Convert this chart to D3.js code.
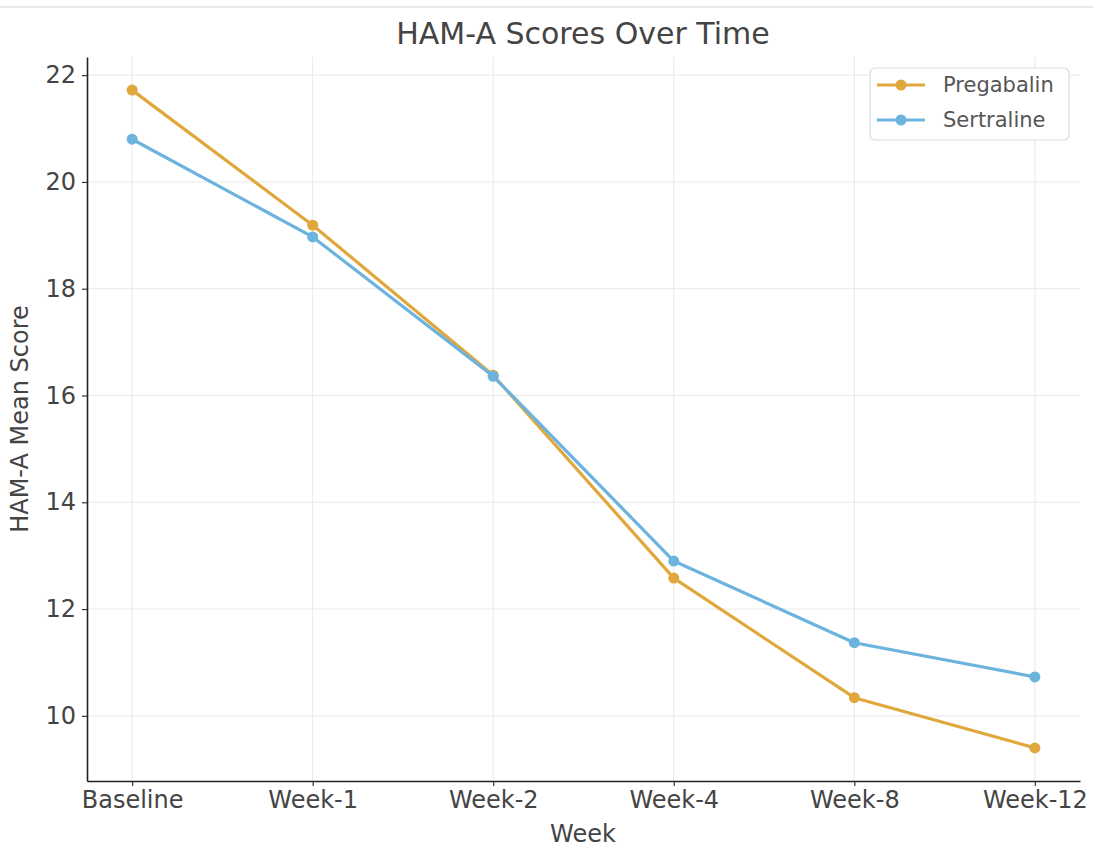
<!DOCTYPE html>
<html>
<head>
<meta charset="utf-8">
<script src="https://cdn.jsdelivr.net/npm/d3@7"></script>
<style>
  body { margin: 0; background: #fff; }
  svg text { font-family: "DejaVu Sans", sans-serif; }
</style>
</head>
<body>
<div id="chart"></div>
<script>
var weeks = ["Baseline", "Week-1", "Week-2", "Week-4", "Week-8", "Week-12"];
var pregabalin = [21.72, 19.19, 16.38, 12.58, 10.34, 9.40];
var sertraline = [20.80, 18.97, 16.36, 12.90, 11.37, 10.73];
var yTicks = [10, 12, 14, 16, 18, 20, 22];

var series = [
  {name: "Pregabalin", values: pregabalin, color: "#e0a83c"},
  {name: "Sertraline", values: sertraline, color: "#6cb3de"}
];

var W = 1093, H = 847;
var margin = {top: 57, right: 13, bottom: 66, left: 87};

var svg = d3.select("#chart").append("svg")
    .attr("width", W)
    .attr("height", H);

// faint border line at top of the image
svg.append("line")
    .attr("x1", 0).attr("x2", W)
    .attr("y1", 7).attr("y2", 7)
    .attr("stroke", "#e2e2e2")
    .attr("stroke-width", 1.5);

var x = d3.scalePoint()
    .domain(weeks)
    .range([margin.left, W - margin.right])
    .padding(0.25);

var y = d3.scaleLinear()
    .domain([8.78, 22.34])
    .range([H - margin.bottom, margin.top]);

// grid
var grid = svg.append("g").attr("class", "grid");
grid.selectAll(".vgrid")
    .data(weeks)
    .enter().append("line")
    .attr("x1", function(d) { return x(d); })
    .attr("x2", function(d) { return x(d); })
    .attr("y1", margin.top)
    .attr("y2", H - margin.bottom)
    .attr("stroke", "#e8e8e8")
    .attr("stroke-width", 1);
grid.selectAll(".hgrid")
    .data(yTicks)
    .enter().append("line")
    .attr("x1", margin.left)
    .attr("x2", W - margin.right)
    .attr("y1", function(d) { return y(d); })
    .attr("y2", function(d) { return y(d); })
    .attr("stroke", "#e8e8e8")
    .attr("stroke-width", 1);

// axes
var xAxis = svg.append("g")
    .attr("transform", "translate(0," + (H - margin.bottom) + ")")
    .call(d3.axisBottom(x).tickSize(5).tickPadding(5).tickSizeOuter(0));
var yAxis = svg.append("g")
    .attr("transform", "translate(" + margin.left + ",0)")
    .call(d3.axisLeft(y).tickValues(yTicks).tickSize(5).tickPadding(6).tickSizeOuter(0));

[xAxis, yAxis].forEach(function(a) {
  a.select(".domain").attr("stroke", "#222").attr("stroke-width", 1.6);
  a.selectAll(".tick line").attr("stroke", "#333").attr("stroke-width", 1.2);
  a.selectAll(".tick text")
      .attr("fill", "#444")
      .style("font-size", "24px");
});

// lines
var line = d3.line()
    .x(function(d, i) { return x(weeks[i]); })
    .y(function(d) { return y(d); });

series.forEach(function(s) {
  svg.append("path")
      .datum(s.values)
      .attr("fill", "none")
      .attr("stroke", s.color)
      .attr("stroke-width", 3.2)
      .attr("stroke-linejoin", "round")
      .attr("d", line);
  svg.selectAll(".dot-" + s.name)
      .data(s.values)
      .enter().append("circle")
      .attr("cx", function(d, i) { return x(weeks[i]); })
      .attr("cy", function(d) { return y(d); })
      .attr("r", 5.5)
      .attr("fill", s.color);
});

// title & axis labels
svg.append("text")
    .attr("x", 583)
    .attr("y", 44)
    .attr("text-anchor", "middle")
    .attr("fill", "#444")
    .style("font-size", "30px")
    .text("HAM-A Scores Over Time");

svg.append("text")
    .attr("x", 583)
    .attr("y", 842)
    .attr("text-anchor", "middle")
    .attr("fill", "#444")
    .style("font-size", "24px")
    .text("Week");

svg.append("text")
    .attr("transform", "translate(28," + (margin.top + (H - margin.bottom - margin.top) / 2) + ") rotate(-90)")
    .attr("text-anchor", "middle")
    .attr("fill", "#444")
    .style("font-size", "24px")
    .text("HAM-A Mean Score");

// legend
var legend = svg.append("g").attr("transform", "translate(870,68)");
legend.append("rect")
    .attr("width", 199)
    .attr("height", 72)
    .attr("rx", 5)
    .attr("fill", "#fff")
    .attr("stroke", "#dcdcdc")
    .attr("stroke-width", 1.2);
series.forEach(function(s, i) {
  var g = legend.append("g").attr("transform", "translate(7," + (17 + i * 35) + ")");
  g.append("line")
      .attr("x1", 0).attr("x2", 48)
      .attr("stroke", s.color)
      .attr("stroke-width", 3.2);
  g.append("circle")
      .attr("cx", 24).attr("r", 5.5)
      .attr("fill", s.color);
  g.append("text")
      .attr("x", 66)
      .attr("dy", "0.35em")
      .attr("fill", "#555")
      .style("font-size", "21px")
      .text(s.name);
});
</script>
</body>
</html>
